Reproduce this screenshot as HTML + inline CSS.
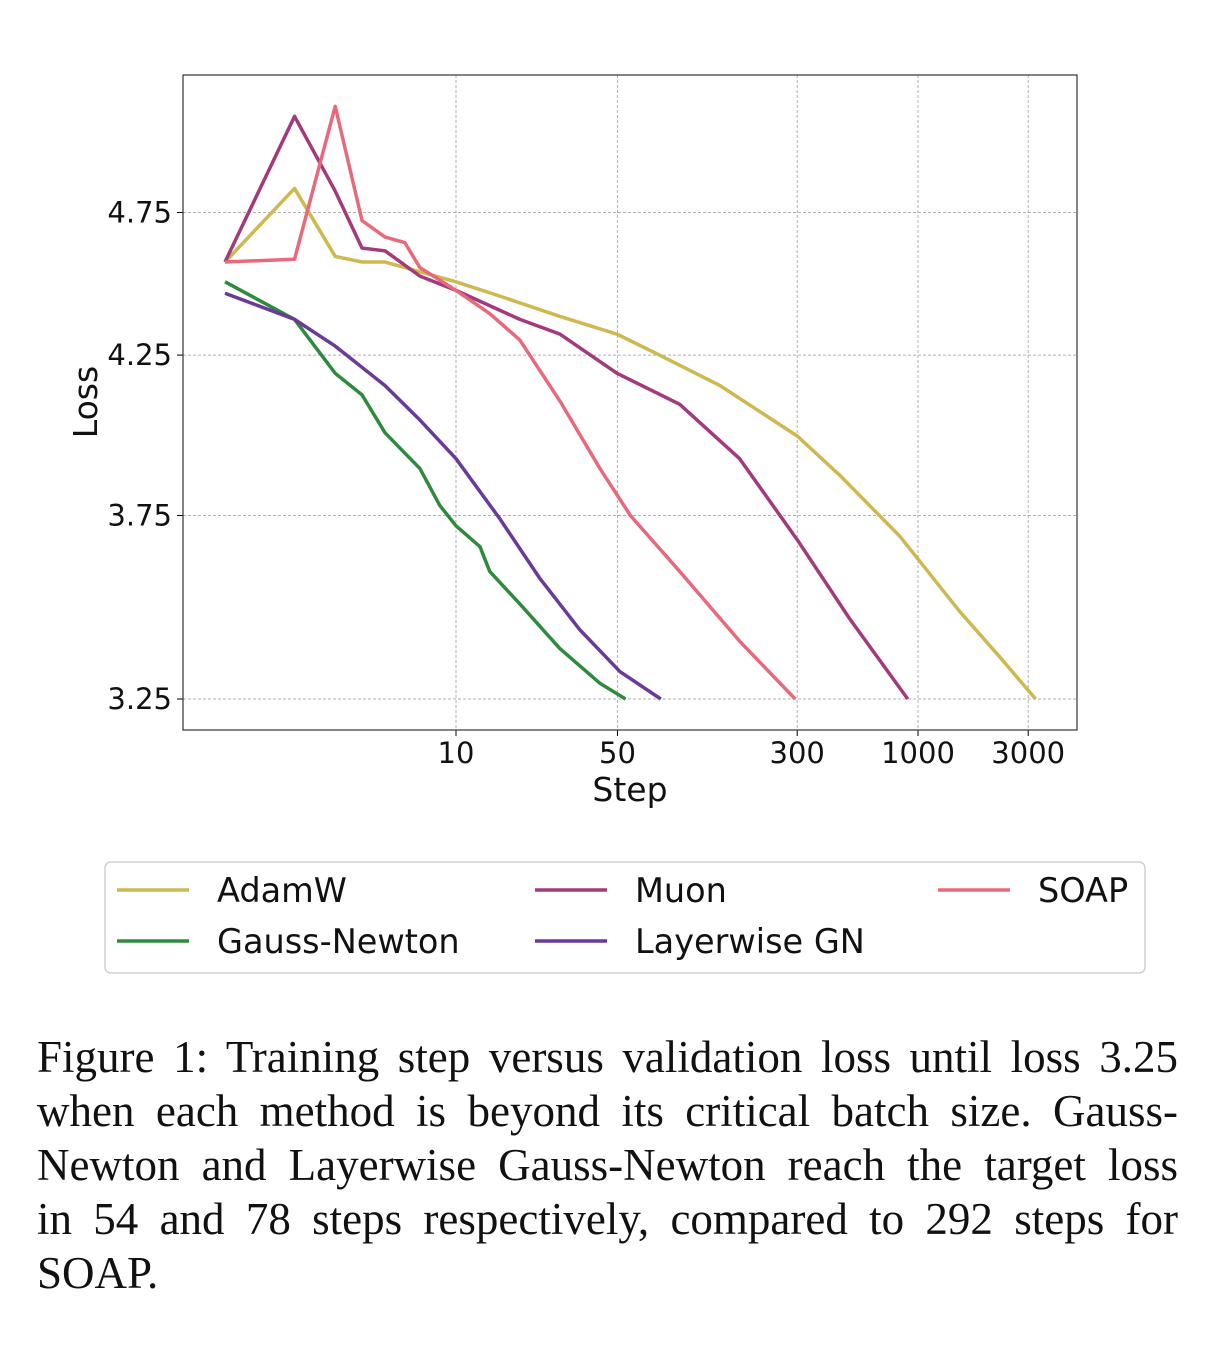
<!DOCTYPE html>
<html><head><meta charset="utf-8"><style>
body{margin:0;background:#fff;width:1226px;height:1350px;overflow:hidden;position:relative}
svg{position:absolute;left:0;top:0}
.cap{position:absolute;left:37px;width:1141px;font-family:"Liberation Serif",serif;font-size:45px;color:#111}
.cap div{height:54px;line-height:54px;text-align:justify;text-align-last:justify;white-space:nowrap}
.cap div.last{text-align-last:left}
</style></head><body>
<svg id="chart" width="1226" height="1350" font-family="'DejaVu Sans','Liberation Sans',sans-serif"></svg>
<div class="cap" style="top:1030px">
<div>Figure 1: Training step versus validation loss until loss 3.25</div>
<div>when each method is beyond its critical batch size. Gauss-</div>
<div>Newton and Layerwise Gauss-Newton reach the target loss</div>
<div>in 54 and 78 steps respectively, compared to 292 steps for</div>
<div class="last">SOAP.</div>
</div>
<script>
const xTicks=[10,50,300,1000,3000];
const yTicks=[3.25,3.75,4.25,4.75];
const adamSteps=[1,2,3,3.92,4.93,10,15.5,28.2,49.8,76,139,300,458,834,1513,2247,3230];
const adamLoss=[4.57,4.84,4.59,4.57,4.57,4.50,4.45,4.38,4.32,4.25,4.15,3.99,3.87,3.69,3.48,3.36,3.25];
const muonSteps=[1,2,3,3.92,4.93,6.98,10,18.9,28.2,49.8,93,169,300,506,903];
const muonLoss=[4.57,5.12,4.83,4.62,4.61,4.52,4.47,4.37,4.32,4.19,4.09,3.92,3.68,3.46,3.25];
const soapSteps=[1,2,3,3.92,4.93,6.0,6.98,10,14.0,18.9,28.2,42,56.9,93,169,294];
const soapLoss=[4.57,4.58,5.16,4.72,4.66,4.64,4.55,4.47,4.39,4.30,4.10,3.89,3.75,3.59,3.40,3.25];
const gnSteps=[1,2,3,3.92,4.93,6.98,8.5,10,12.7,14.0,18.9,28.2,42,54.2];
const gnLoss=[4.50,4.37,4.19,4.12,4.00,3.89,3.78,3.72,3.66,3.59,3.50,3.38,3.29,3.25];
const lgnSteps=[1,2,3,4.93,6.98,10,15.5,23.1,34.4,51.3,77];
const lgnLoss=[4.46,4.37,4.28,4.15,4.04,3.92,3.74,3.57,3.43,3.32,3.25];
const seriesNames=["AdamW","Muon","SOAP","Gauss-Newton","Layerwise GN"];
const NS="http://www.w3.org/2000/svg";
const svg=document.getElementById('chart');
const L=183,R=1077,T=75,B=730;
const X=s=>225+231*Math.log10(s);
const Y=l=>699-1282*Math.log(l/3.25);
function mk(t,a,p){const e=document.createElementNS(NS,t);for(const k in a)e.setAttribute(k,a[k]);(p||svg).appendChild(e);return e;}
xTicks.forEach(v=>{
 const g=mk('line',{x1:X(v),x2:X(v),y1:T,y2:B,stroke:'#b0b0b0','stroke-width':1,'stroke-dasharray':'3,2'});
 
 
 mk('line',{x1:X(v),x2:X(v),y1:B,y2:B+6,stroke:'#000'});
 const t=mk('text',{x:X(v),y:B+33,'text-anchor':'middle','font-size':29,fill:'#111'});t.textContent=v;
 
 
});
yTicks.forEach(v=>{
 const g=mk('line',{x1:L,x2:R,y1:Y(v),y2:Y(v),stroke:'#b0b0b0','stroke-width':1,'stroke-dasharray':'3,2'});
 
 
 mk('line',{x1:L-6,x2:L,y1:Y(v),y2:Y(v),stroke:'#000'});
 const t=mk('text',{x:L-11,y:Y(v)+10,'text-anchor':'end','font-size':29,fill:'#111'});t.textContent=v.toFixed(2);
 
 
});
const fr=mk('rect',{x:L,y:T,width:R-L,height:B-T,fill:'none',stroke:'#333','stroke-width':1.2});


const series=[[adamSteps,adamLoss,'#cdb94f','adamw-line'],[muonSteps,muonLoss,'#a23a7c','muon-line'],[soapSteps,soapLoss,'#e8697c','soap-line'],[gnSteps,gnLoss,'#2e8b3e','gauss-newton-line'],[lgnSteps,lgnLoss,'#6a3a98','layerwise-gn-line']];
series.forEach(([s,l,c,n])=>{
 const p=mk('polyline',{points:s.map((v,i)=>X(v)+','+Y(l[i])).join(' '),fill:'none',stroke:c,'stroke-width':3.5,'stroke-linejoin':'round'});
 
 
});
let t=mk('text',{x:630,y:801,'text-anchor':'middle','font-size':33,fill:'#111'});t.textContent='Step';


t=mk('text',{x:97,y:402,'text-anchor':'middle','font-size':33,fill:'#111',transform:'rotate(-90 97 402)'});t.textContent='Loss';


const lg=mk('rect',{x:105,y:862,width:1040,height:111,rx:6,fill:'#fff',stroke:'#d0d0d0','stroke-width':1.5});


const lpos=[[117,890,'#cdb94f',0],[535,890,'#a23a7c',1],[938,890,'#e8697c',2],[117,941,'#2e8b3e',3],[535,941,'#6a3a98',4]];
lpos.forEach(([x,y,c,i])=>{
 mk('line',{x1:x,x2:x+72,y1:y,y2:y,stroke:c,'stroke-width':3.5});
 const e=mk('text',{x:x+100,y:y+12,'font-size':33.5,fill:'#111'});e.textContent=seriesNames[i];
 
 
});
</script>
</body></html>
